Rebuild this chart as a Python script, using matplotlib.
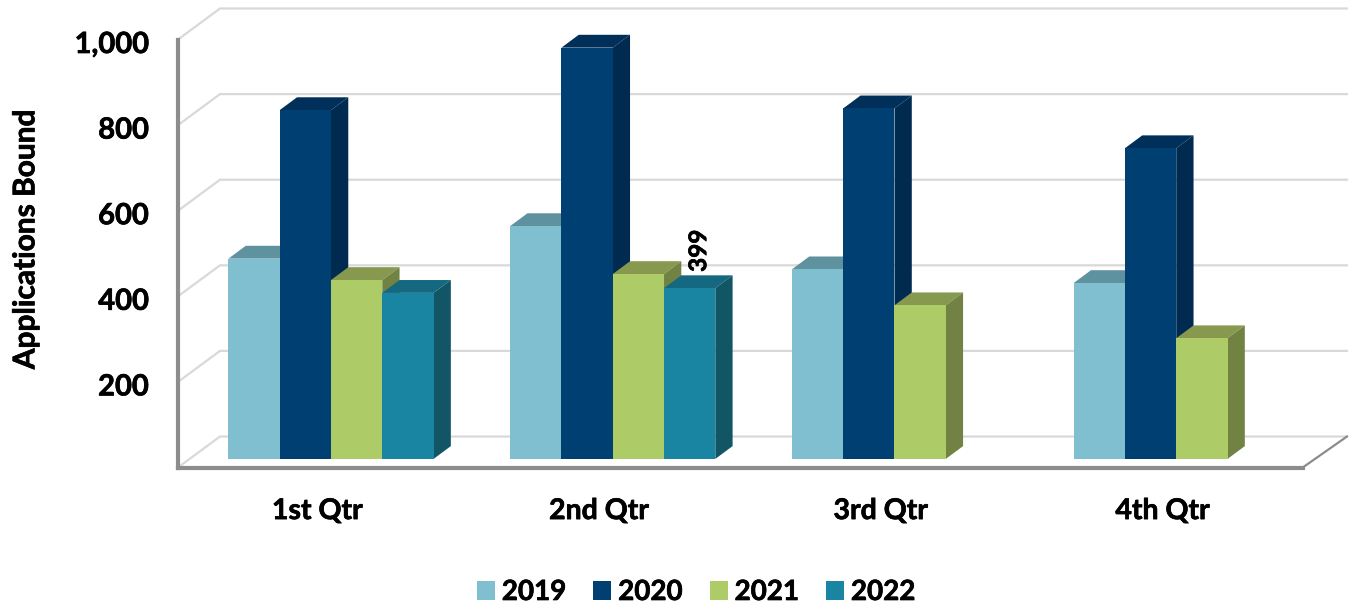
#!/usr/bin/env python3
"""Quarterly applications bound, drawn as a faux 3D column chart."""

import numpy as np
import matplotlib
matplotlib.use("Agg")
import matplotlib.pyplot as plt
import matplotlib.patheffects as pe
from matplotlib.patches import Patch, Polygon
from matplotlib.transforms import ScaledTranslation

plt.rcParams["font.family"] = ["Lato", "DejaVu Sans"]
plt.rcParams["font.weight"] = "bold"

quarters = ["1st Qtr", "2nd Qtr", "3rd Qtr", "4th Qtr"]
years = ["2019", "2020", "2021", "2022"]
values_2019 = [468, 544, 443, 411]
values_2020 = [815, 961, 819, 726]
values_2021 = [418, 432, 359, 282]
values_2022 = [388, 399, np.nan, np.nan]
y_ticks = [200, 400, 600, 800, 1000]
y_tick_labels = ["200", "400", "600", "800", "1,000"]

front_colors = ["#7FBFD0", "#003F72", "#ADCB66", "#1A84A3"]
top_colors = ["#5F929F", "#00305A", "#86994F", "#14687F"]
side_colors = ["#5F929F", "#002A4F", "#728243", "#125666"]

GRID = "#D9D9D9"
AXIS = "#8C8C8C"

# depth of the walls and of the bars, in data units
WALL_DX, WALL_DY = 0.149, 72.4
BAR_DX, BAR_DY = 0.0614, 30
# bars stand a little behind the front plane
LIFT_X, LIFT_Y = 0.043, 20
BAR_W = 0.182
FLOOR_END = 3.992

# the original font is heavier than Lato Bold
heavy = [pe.withStroke(linewidth=0.5, foreground="black")]

fig = plt.figure(figsize=(13.5, 6.04), dpi=100)
ax = fig.add_axes([178 / 1350, 1 - 467.5 / 604, 1127 / 1350, 428 / 604])
ax.set_xlim(0, 4)
ax.set_ylim(0, 1000)

for s in ["top", "right"]:
    ax.spines[s].set_visible(False)
for s in ["left", "bottom"]:
    ax.spines[s].set_color(AXIS)
    ax.spines[s].set_linewidth(3)
    ax.spines[s].set_capstyle("projecting")
ax.spines["bottom"].set_bounds(0, FLOOR_END)

# back wall and floor lines
for v in [0] + y_ticks:
    ax.plot([0, WALL_DX, 4 + WALL_DX], [v, v + WALL_DY, v + WALL_DY],
            color=GRID, lw=1.6, clip_on=False, zorder=1, solid_joinstyle="miter")
ax.plot([FLOOR_END, 4 + WALL_DX], [0, WALL_DY], color=AXIS, lw=1.6, clip_on=False, zorder=1.5)

x = np.arange(len(quarters)) + 0.5 + LIFT_X
series = [values_2019, values_2020, values_2021, values_2022]

for i, vals in enumerate(series):
    z = 2 + i
    xpos = x + (i - 1.5) * BAR_W
    ax.bar(xpos, vals, BAR_W, bottom=LIFT_Y, color=front_colors[i],
           clip_on=False, zorder=z + 0.2)
    for xc, v in zip(xpos, vals):
        if np.isnan(v):
            continue
        x0, x1 = xc - BAR_W / 2, xc + BAR_W / 2
        y0, y1 = LIFT_Y, LIFT_Y + v
        ax.add_patch(Polygon(
            [(x0, y1), (x0 + BAR_DX, y1 + BAR_DY), (x1 + BAR_DX, y1 + BAR_DY), (x1, y1)],
            facecolor=top_colors[i], edgecolor="none", clip_on=False, zorder=z))
        ax.add_patch(Polygon(
            [(x1, y0), (x1 + BAR_DX, y0 + BAR_DY), (x1 + BAR_DX, y1 + BAR_DY), (x1, y1)],
            facecolor=side_colors[i], edgecolor="none", clip_on=False, zorder=z))

# the only data label in the chart
ax.text(x[1] + 1.5 * BAR_W + 0.032, 457, "399", rotation=90, ha="center", va="bottom",
        fontsize=17.5, fontweight="bold", color="black", zorder=10, path_effects=heavy)

ax.set_xticks(np.arange(len(quarters)) + 0.5)
ax.set_xticklabels(quarters, fontsize=20.5, fontweight="bold", path_effects=heavy)
ax.set_yticks(y_ticks)
ax.set_yticklabels(y_tick_labels, fontsize=21, fontweight="bold", path_effects=heavy)
ax.tick_params(axis="x", length=0, pad=22)
ax.tick_params(axis="y", length=0, pad=21)
# tick labels sit slightly off their ticks in the original
down = ScaledTranslation(0, -3 / 100, fig.dpi_scale_trans)
for lab in ax.get_yticklabels():
    lab.set_transform(lab.get_transform() + down)
left = ScaledTranslation(-1.5 / 100, 0, fig.dpi_scale_trans)
for lab in ax.get_xticklabels():
    lab.set_transform(lab.get_transform() + left)

ax.set_ylabel("Applications Bound", fontsize=21.5, fontweight="bold", path_effects=heavy)
ax.yaxis.set_label_coords(-0.123, 0.533)

handles = [Patch(facecolor=c, edgecolor="none") for c in front_colors]
leg = fig.legend(handles, years, loc="center", bbox_to_anchor=(696 / 1350, 1 - 592 / 604),
                 ncol=4, frameon=False, fontsize=20, handlelength=0.65, handleheight=0.65,
                 handletextpad=0.25, columnspacing=0.97, borderpad=0, borderaxespad=0)
for t in leg.get_texts():
    t.set_path_effects(heavy)

fig.savefig("out.png", dpi=100)
